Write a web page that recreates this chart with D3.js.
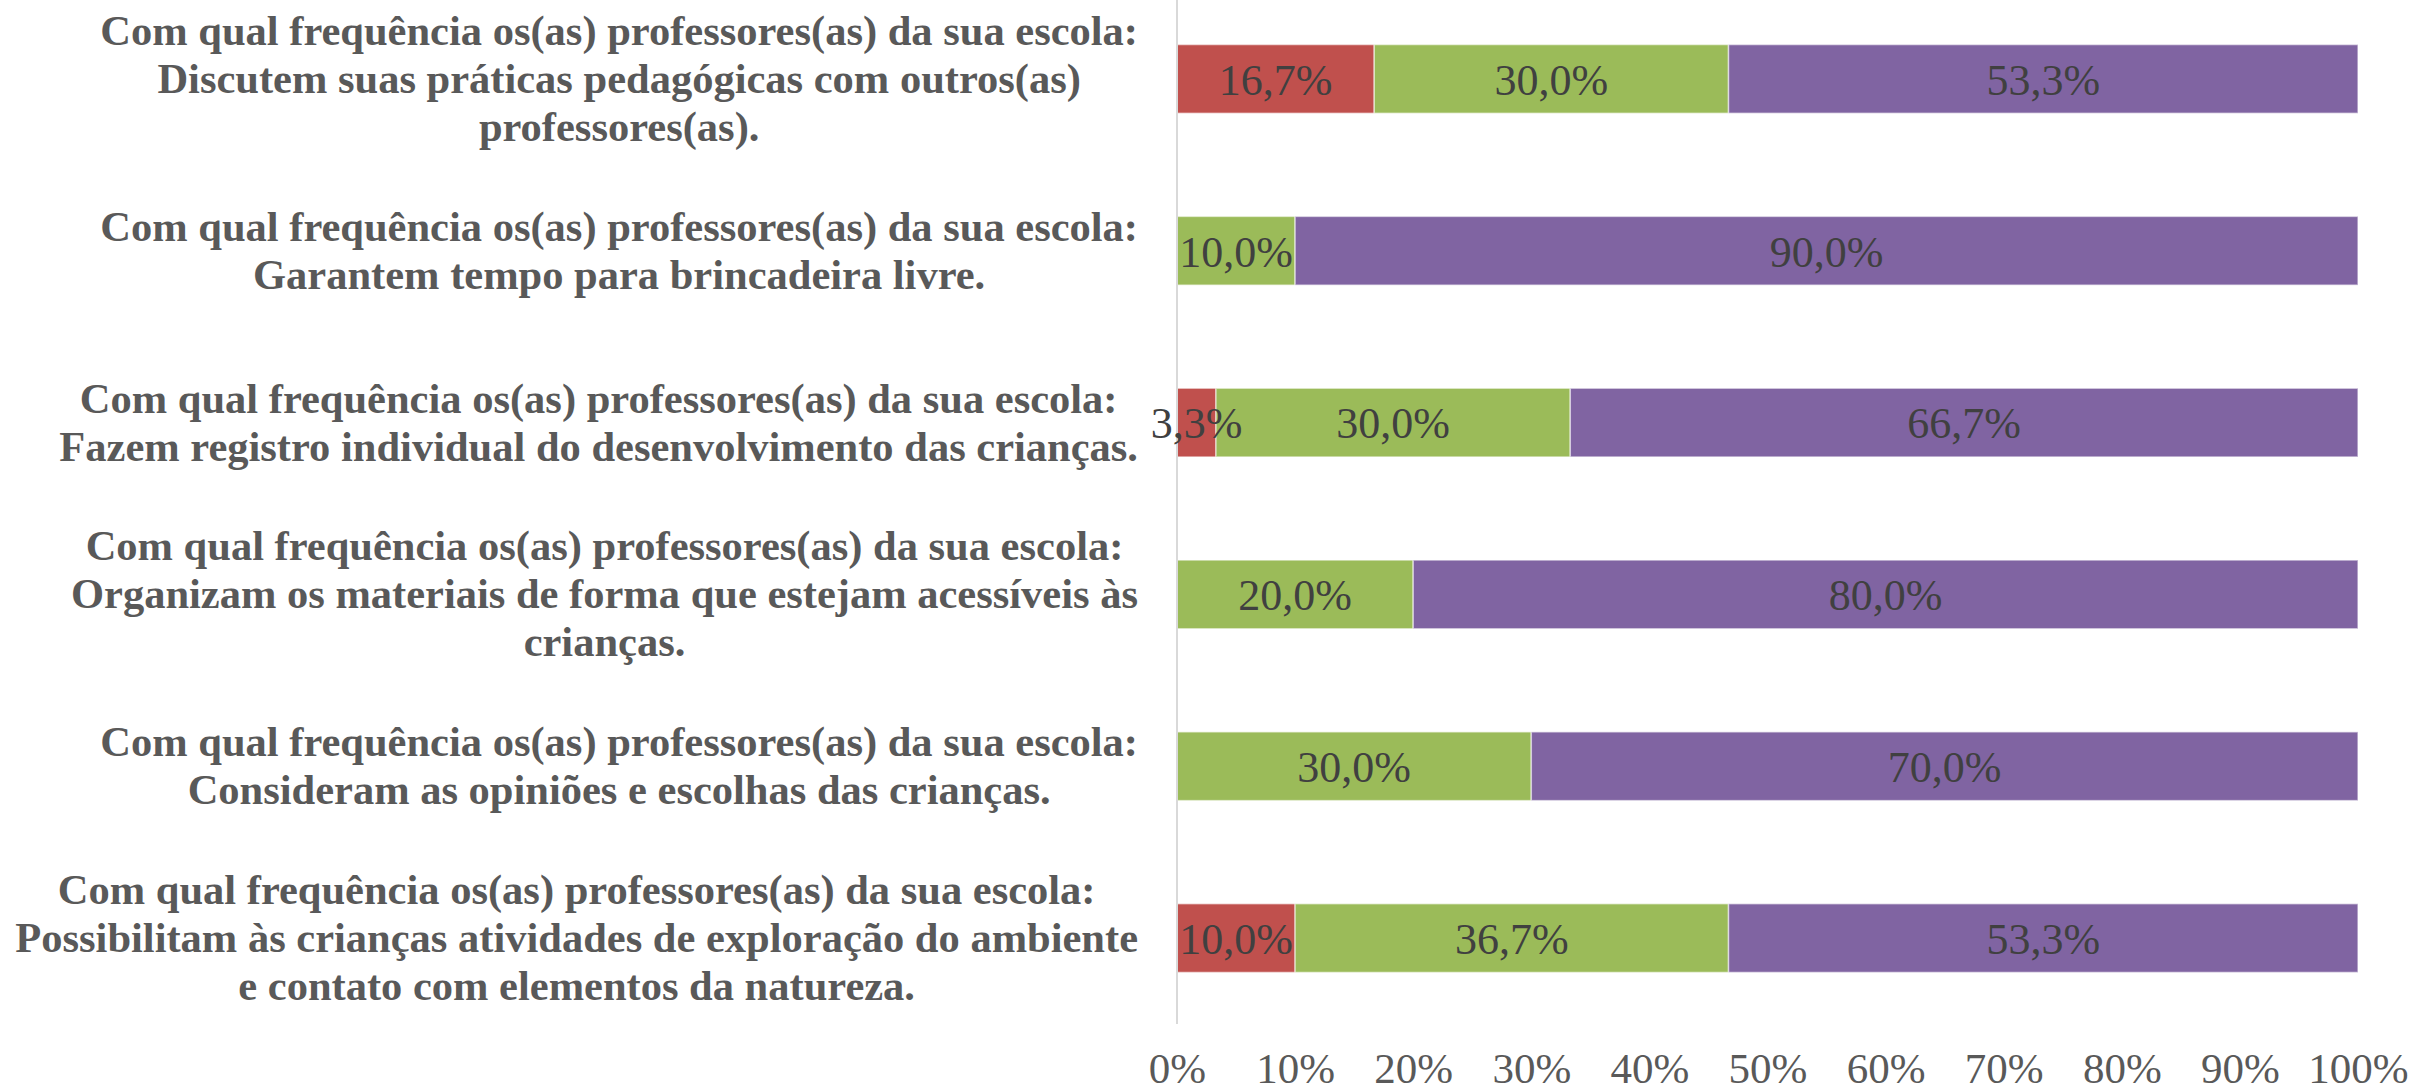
<!DOCTYPE html>
<html>
<head>
<meta charset="utf-8">
<script src="https://cdn.jsdelivr.net/npm/d3@7/dist/d3.min.js"></script>
<style>
  html, body { margin: 0; padding: 0; background: #fff; }
  svg { display: block; }
</style>
</head>
<body>
<svg id="chart" width="2409" height="1092"></svg>
<script>
// Question labels, one entry per bar (already broken into lines)
const categories = [
  ["Com qual frequência os(as) professores(as) da sua escola:", "Discutem suas práticas pedagógicas com outros(as)", "professores(as)."],
  ["Com qual frequência os(as) professores(as) da sua escola:", "Garantem tempo para brincadeira livre."],
  ["Com qual frequência os(as) professores(as) da sua escola:", "Fazem registro individual do desenvolvimento das crianças."],
  ["Com qual frequência os(as) professores(as) da sua escola:", "Organizam os materiais de forma que estejam acessíveis às", "crianças."],
  ["Com qual frequência os(as) professores(as) da sua escola:", "Consideram as opiniões e escolhas das crianças."],
  ["Com qual frequência os(as) professores(as) da sua escola:", "Possibilitam às crianças atividades de exploração do ambiente", "e contato com elementos da natureza."]
];

// Shares (in %) of the three answer groups, stacked left to right
const series1 = [16.7, 0, 3.3, 0, 0, 10.0];
const series2 = [30.0, 10.0, 30.0, 20.0, 30.0, 36.7];
const series3 = [53.3, 90.0, 66.7, 80.0, 70.0, 53.3];

const seriesKeys = ["series1", "series2", "series3"];
const seriesColors = ["#C0504D", "#9BBB59", "#8064A2"];

const tickValues = [0, 10, 20, 30, 40, 50, 60, 70, 80, 90, 100];

// Build the table the stack layout needs
const rows = categories.map((c, i) => ({
  idx: i,
  series1: series1[i],
  series2: series2[i],
  series3: series3[i]
}));

const svg = d3.select("#chart");

const plotLeft = 1177, plotRight = 2358;
const plotTop = -7, plotBottom = 1024;

const x = d3.scaleLinear().domain([0, 100]).range([plotLeft, plotRight]);
const y = d3.scaleBand()
  .domain(rows.map(r => r.idx))
  .range([plotTop, plotBottom])
  .paddingInner(0.6)
  .paddingOuter(0.3);

const stacked = d3.stack().keys(seriesKeys)(rows);

// Flatten the non-empty segments for the value labels
const segments = stacked.flatMap(layer =>
  layer.filter(p => p[1] - p[0] > 0).map(p => ({ x0: p[0], x1: p[1], idx: p.data.idx }))
);

// Bars
const layers = svg.append("g").selectAll("g")
  .data(stacked)
  .join("g")
  .attr("fill", (d, i) => seriesColors[i]);

layers.selectAll("rect")
  .data(d => d.filter(p => p[1] - p[0] > 0))
  .join("rect")
  .attr("x", d => x(d[0]))
  .attr("y", d => y(d.data.idx))
  .attr("width", d => x(d[1]) - x(d[0]))
  .attr("height", y.bandwidth())
  .attr("stroke", "#ffffff")
  .attr("stroke-opacity", 0.55)
  .attr("stroke-width", 1.5);

// Vertical category axis line
svg.append("line")
  .attr("x1", plotLeft).attr("x2", plotLeft)
  .attr("y1", 0).attr("y2", plotBottom)
  .attr("stroke", "#d9d9d9")
  .attr("stroke-width", 2);

// Value labels centred in each segment, drawn above all bars
const fmt = v => v.toFixed(1).replace(".", ",") + "%";
svg.append("g")
  .selectAll("text")
  .data(segments)
  .join("text")
  .attr("x", d => (x(d.x0) + x(d.x1)) / 2)
  .attr("y", d => y(d.idx) + y.bandwidth() / 2)
  .attr("dy", "0.36em")
  .attr("text-anchor", "middle")
  .attr("fill", "#404040")
  .style("font-family", "'Liberation Serif', 'Times New Roman', serif")
  .style("font-size", "44px")
  .text(d => fmt(d.x1 - d.x0));

// Percentage axis at the bottom
const xAxis = d3.axisBottom(x)
  .tickValues(tickValues)
  .tickFormat(d => d + "%")
  .tickSize(0)
  .tickPadding(28);

const gx = svg.append("g")
  .attr("transform", `translate(0,${plotBottom})`)
  .call(xAxis);
gx.select(".domain").remove();
gx.selectAll("text")
  .attr("fill", "#595959")
  .style("font-family", "'Liberation Serif', 'Times New Roman', serif")
  .style("font-size", "43px");

// Category labels: block right-aligned next to the axis, lines centred within it
const labelRight = 1138;
const lineHeight = 48;
const labelGroup = svg.append("g")
  .style("font-family", "'Liberation Serif', 'Times New Roman', serif")
  .style("font-size", "42.5px")
  .style("font-weight", "bold")
  .attr("fill", "#595959");

categories.forEach((lines, i) => {
  const cy = y(i) + y.bandwidth() / 2;
  const t = labelGroup.append("text").attr("text-anchor", "middle");
  const spans = lines.map((ln, j) =>
    t.append("tspan")
      .attr("y", cy + (j - (lines.length - 1) / 2) * lineHeight + 14)
      .text(ln)
  );
  const maxW = d3.max(spans, s => s.node().getComputedTextLength());
  const cx = labelRight - maxW / 2;
  spans.forEach(s => s.attr("x", cx));
});
</script>
</body>
</html>
